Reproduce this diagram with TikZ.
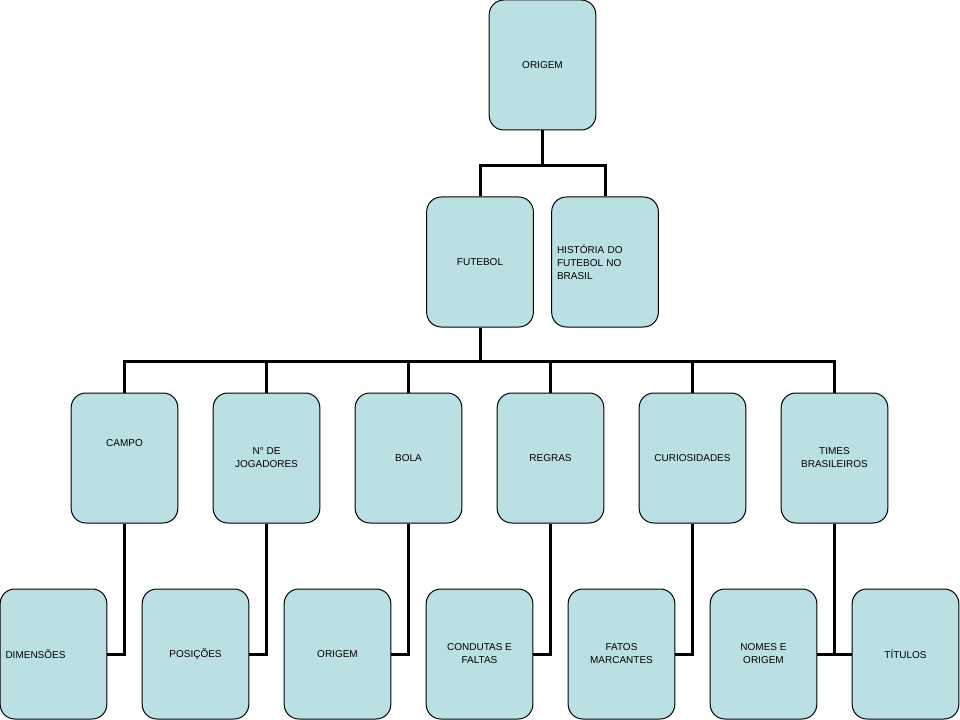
\documentclass[tikz,border=0pt]{standalone}
\usepackage{fontspec}
\setmainfont{Liberation Sans}
\definecolor{boxfill}{RGB}{187,224,227}
\tikzset{
  box/.style={draw=black, line width=0.75pt, fill=boxfill, rounded corners=11pt,
    minimum width=80pt, minimum height=97.5pt, inner sep=3.75pt, align=center,
    font=\fontsize{7.5pt}{9.75pt}\selectfont},
  leftbox/.style={box, align=left, text width=72pt},
  conn/.style={draw=black, line width=2.25pt}
}
\begin{document}
\begin{tikzpicture}[x=0.75pt, y=-0.75pt]
  \useasboundingbox (0,0) rectangle (960,720);
  \node[box] at (542.5,65) (origem) {ORIGEM};
  \node[box] at (480,262) (futebol) {FUTEBOL};
  \node[leftbox, right of=futebol, node distance=93.75pt] (historia) {HISTÓRIA DO\\FUTEBOL NO\\BRASIL};
  \node[box, text depth=22pt] at (124.5,458) (campo) {CAMPO};
  \node[box, right of=campo, node distance=106.5pt] (jogadores) {N° DE\\JOGADORES};
  \node[box, right of=jogadores, node distance=106.5pt] (bola) {BOLA};
  \node[box, right of=bola, node distance=106.5pt] (regras) {REGRAS};
  \node[box, right of=regras, node distance=106.5pt] (curiosidades) {CURIOSIDADES};
  \node[box, right of=curiosidades, node distance=106.5pt] (times) {TIMES\\BRASILEIROS};
  \node[leftbox] at (53.5,654) (dimensoes) {DIMENSÕES};
  \node[box, right of=dimensoes, node distance=106.5pt] (posicoes) {POSIÇÕES};
  \node[box, right of=posicoes, node distance=106.5pt] (origembola) {ORIGEM};
  \node[box, right of=origembola, node distance=106.5pt] (condutas) {CONDUTAS E\\FALTAS};
  \node[box, right of=condutas, node distance=106.5pt] (fatos) {FATOS\\MARCANTES};
  \node[box, right of=fatos, node distance=106.5pt] (nomes) {NOMES E\\ORIGEM};
  \node[box, right of=nomes, node distance=106.5pt] (titulos) {TÍTULOS};
  \draw[conn] (origem.south) -- ++(0,36);
  \draw[conn] (futebol.north) -- ++(0,-31) -| (historia.north);
  \draw[conn] (futebol.south) -- ++(0,35);
  \draw[conn] (campo.north) -- ++(0,-31) -| (times.north);
  \foreach \n in {jogadores,bola,regras,curiosidades}
    \draw[conn] (\n.north) -- ++(0,-31);
  \draw[conn] (campo.south) |- (dimensoes.east);
  \draw[conn] (jogadores.south) |- (posicoes.east);
  \draw[conn] (bola.south) |- (origembola.east);
  \draw[conn] (regras.south) |- (condutas.east);
  \draw[conn] (curiosidades.south) |- (fatos.east);
  \draw[conn] (times.south) |- (nomes.east);
  \draw[conn] (nomes.east) -- (titulos.west);
\end{tikzpicture}
\end{document}
